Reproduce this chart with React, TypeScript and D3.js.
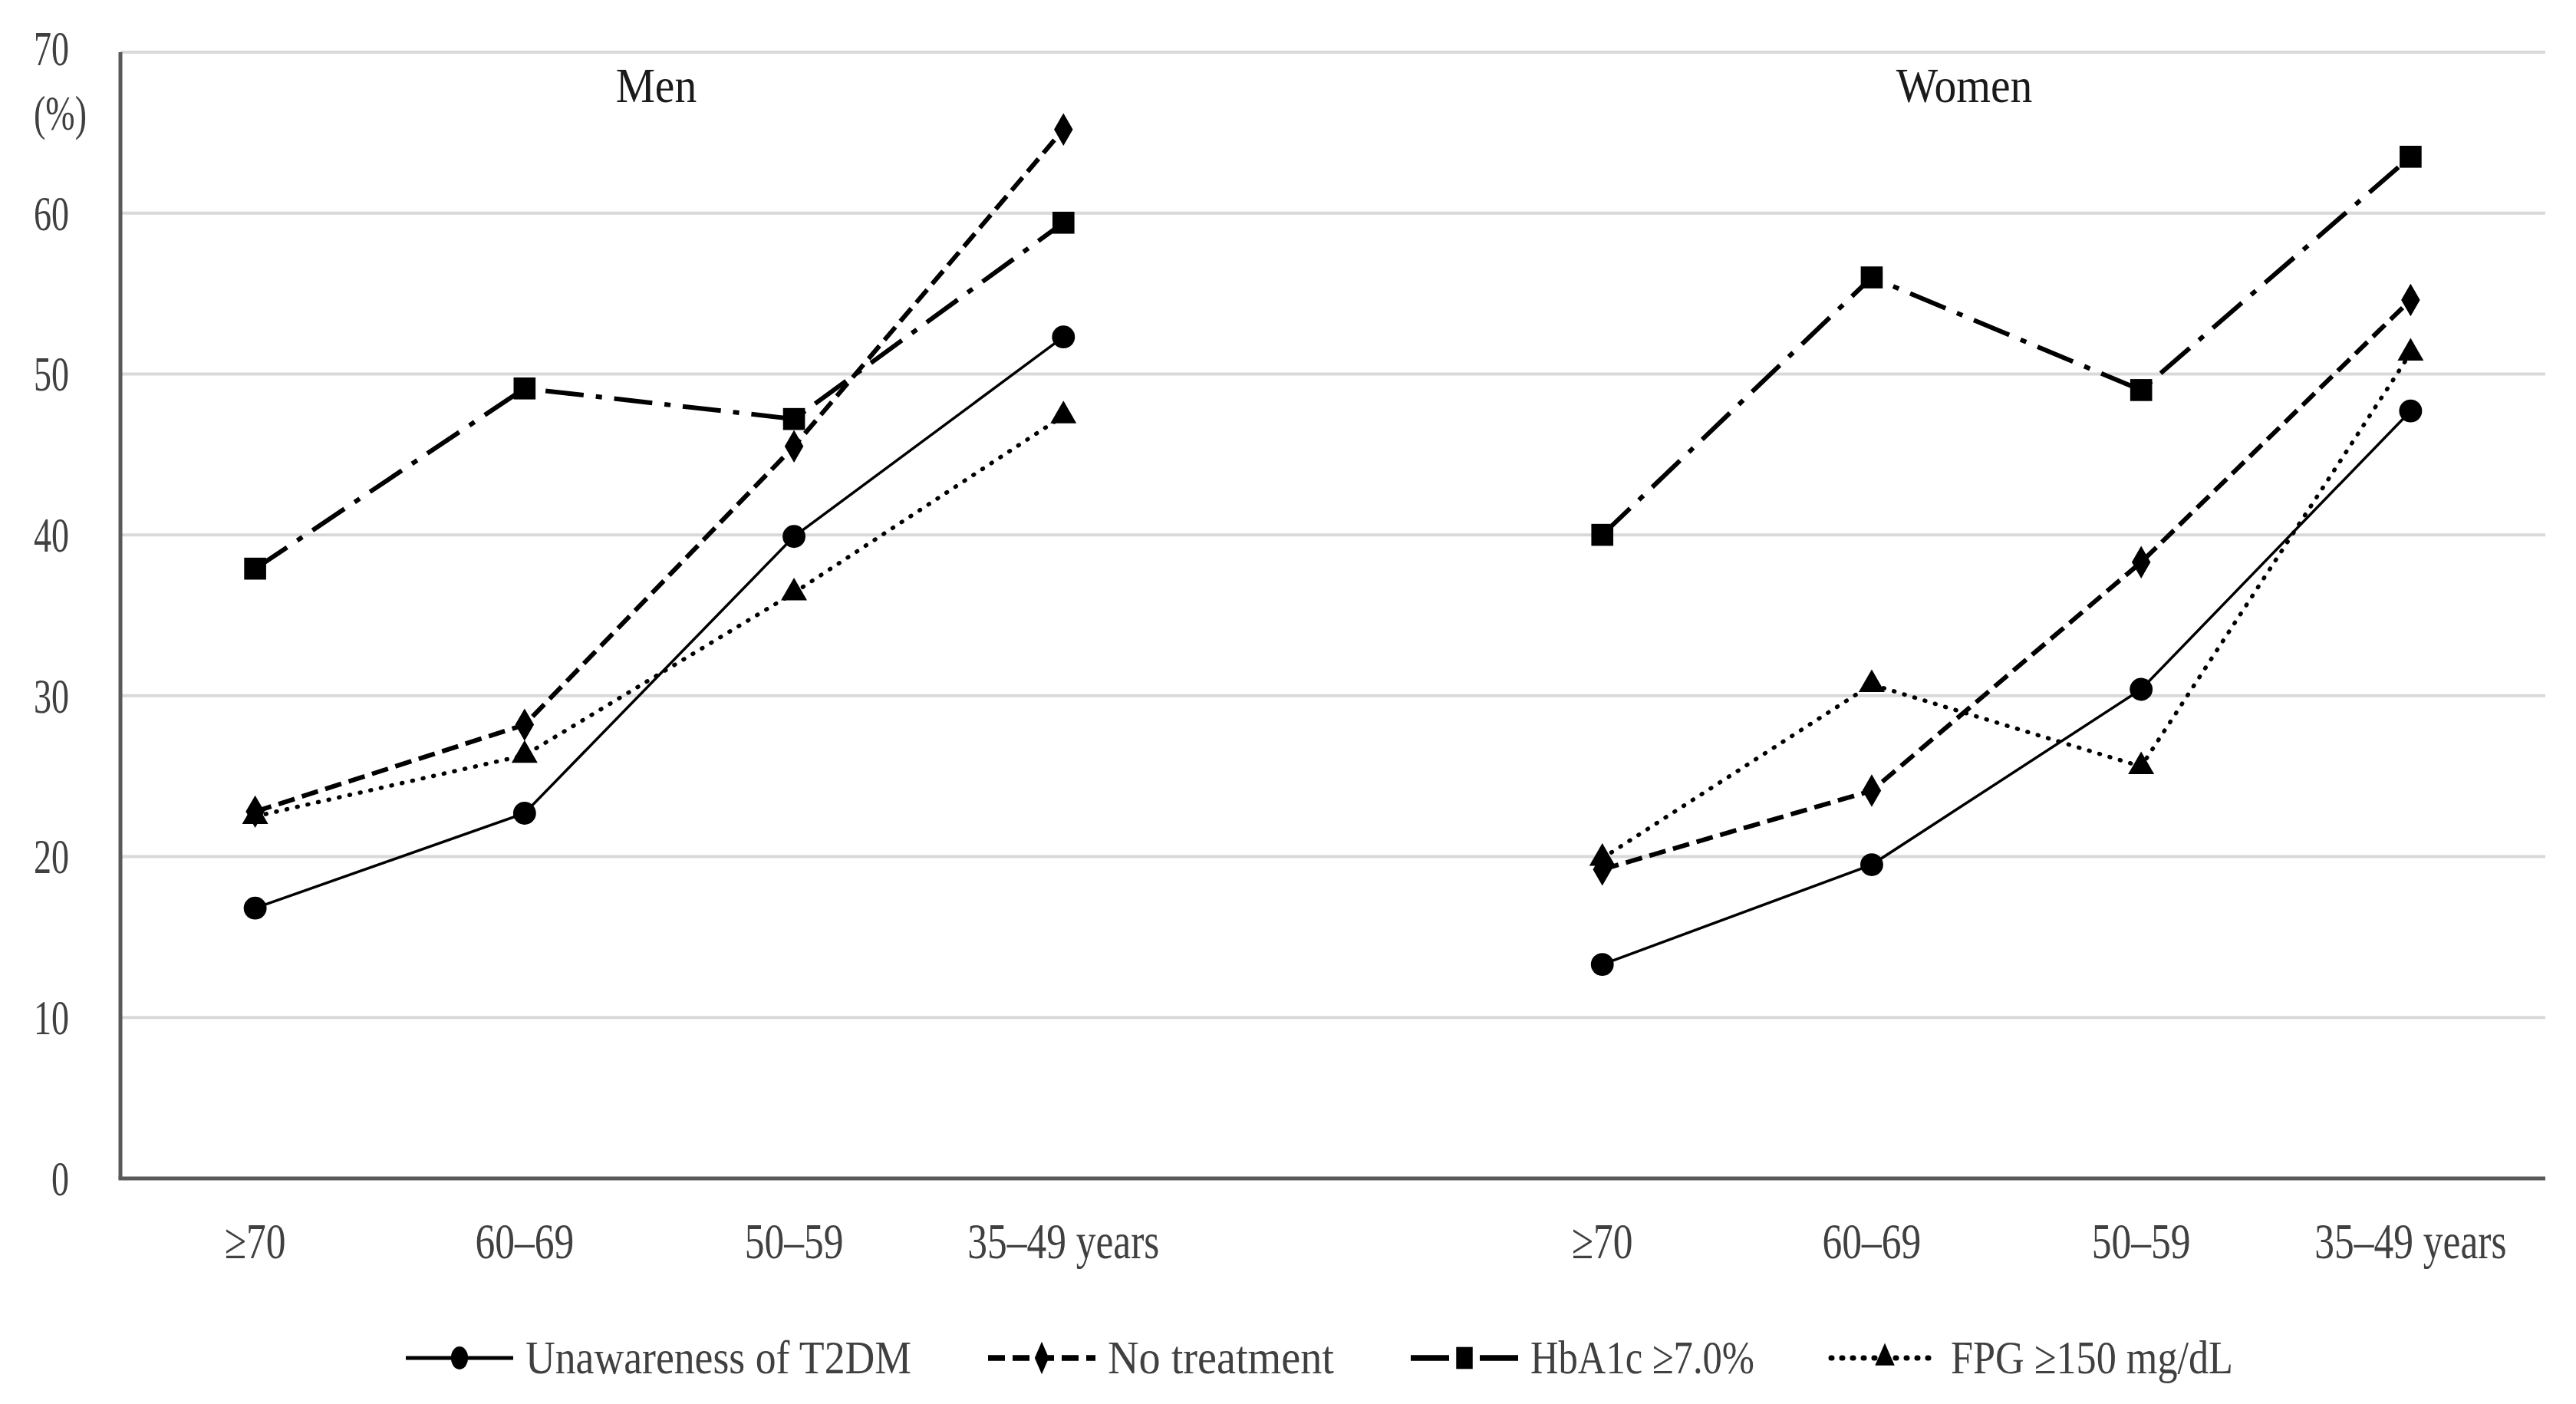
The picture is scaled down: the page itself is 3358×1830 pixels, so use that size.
import React from "react"
import {
  line,
  scaleBand,
  scaleLinear,
  symbol,
  symbolCircle,
  symbolDiamond,
  symbolSquare,
  symbolTriangle,
  range,
} from "d3"

// data
const ageGroups = ["≥70", "60–69", "50–59", "35–49 years"]
const slotKeys = ["m0", "m1", "m2", "m3", "gap", "w0", "w1", "w2", "w3"]
const menSlots = ["m0", "m1", "m2", "m3"]
const womenSlots = ["w0", "w1", "w2", "w3"]
const panelTitles = ["Men", "Women"]
const yTicks = range(0, 71, 10)

const menUnaware = [16.8, 22.7, 39.9, 52.3]
const womenUnaware = [13.3, 19.5, 30.4, 47.7]
const menNoTreatment = [22.8, 28.2, 45.5, 65.2]
const womenNoTreatment = [19.2, 24.1, 38.3, 54.6]
const menHbA1c = [37.9, 49.1, 47.2, 59.4]
const womenHbA1c = [40.0, 56.0, 49.0, 63.5]
const menFPG = [22.5, 26.3, 36.4, 47.4]
const womenFPG = [19.9, 30.7, 25.6, 51.3]

const seriesNames = [
  "Unawareness of T2DM",
  "No treatment",
  "HbA1c ≥7.0%",
  "FPG ≥150 mg/dL",
]

type Series = {
  name: string
  men: number[]
  women: number[]
  dash: string
  width: number
  cap: "butt" | "round"
  shape: any
  size: number
  legendWidth: number
}

const series: Series[] = [
  { name: seriesNames[0], men: menUnaware, women: womenUnaware, dash: "none", width: 3.5, cap: "butt", shape: symbolCircle, size: 700, legendWidth: 503 },
  { name: seriesNames[1], men: menNoTreatment, women: womenNoTreatment, dash: "22 10", width: 6, cap: "butt", shape: symbolDiamond, size: 520, legendWidth: 295 },
  { name: seriesNames[2], men: menHbA1c, women: womenHbA1c, dash: "50 16 8 16", width: 6, cap: "butt", shape: symbolSquare, size: 820, legendWidth: 292 },
  { name: seriesNames[3], men: menFPG, women: womenFPG, dash: "1 13", width: 5.5, cap: "round", shape: symbolTriangle, size: 500, legendWidth: 368 },
]

const W = 3358
const H = 1830
const font = "'Liberation Serif', 'Times New Roman', serif"
const textColor = "#404040"

const App = () => {
  // dimensions
  const left = 157
  const right = 3318
  const top = 68
  const bottom = 1536

  const x = scaleBand<string>().domain(slotKeys).range([left, right])
  const cx = (k: string) => (x(k) ?? 0) + x.bandwidth() / 2
  const y = scaleLinear().domain([0, 70]).range([bottom, top])

  const lineGen = line<[string, number]>()
    .x((d) => cx(d[0]))
    .y((d) => y(d[1]))

  // legend layout
  const legendY = 1770
  const symLen = 140
  const legendGap = 100
  let cursor = 529
  const legendItems = series.map((s) => {
    const start = cursor
    cursor = start + symLen + 16 + s.legendWidth + legendGap
    return { s, start }
  })

  const titleX = [(cx("m1") + cx("m2")) / 2 - 4, (cx("w1") + cx("w2")) / 2 - 55]

  return (
    <svg
      width={W}
      height={H}
      style={{ position: "absolute", left: 0, top: 0, background: "#fff" }}
    >
      <rect width={W} height={H} fill="#fff" />

      {/* gridlines */}
      {yTicks.slice(1).map((t) => (
        <line key={t} x1={left} x2={right} y1={y(t)} y2={y(t)} stroke="#d9d9d9" strokeWidth={4} />
      ))}

      {/* axes */}
      <line x1={left} x2={left} y1={top} y2={bottom} stroke="#595959" strokeWidth={5} />
      <line x1={left - 2.5} x2={right} y1={bottom} y2={bottom} stroke="#595959" strokeWidth={5} />

      {/* y tick labels */}
      {yTicks.map((t) => (
        <text
          key={t}
          transform={`translate(90, ${y(t) - (t === 70 ? 5 : 0)}) scale(0.72, 1)`}
          textAnchor="end"
          dominantBaseline="central"
          fontFamily={font}
          fontSize={64}
          fill={textColor}
        >
          {t}
        </text>
      ))}
      <text
        transform={`translate(113, 147) scale(0.72, 1)`}
        textAnchor="end"
        dominantBaseline="central"
        fontFamily={font}
        fontSize={64}
        fill={textColor}
      >
        (%)
      </text>

      {/* x tick labels */}
      {[menSlots, womenSlots].map((slots) =>
        slots.map((k, i) => (
          <text
            key={k}
            transform={`translate(${cx(k)}, 1640) scale(0.78, 1)`}
            textAnchor="middle"
            fontFamily={font}
            fontSize={66}
            fill={textColor}
          >
            {ageGroups[i]}
          </text>
        )),
      )}

      {/* panel titles */}
      {panelTitles.map((t, i) => (
        <text
          key={t}
          transform={`translate(${titleX[i]}, 133) scale(0.9, 1)`}
          textAnchor="middle"
          fontFamily={font}
          fontSize={64}
          fill="#1a1a1a"
        >
          {t}
        </text>
      ))}

      {/* lines */}
      {series.map((s) =>
        [
          { slots: menSlots, vals: s.men },
          { slots: womenSlots, vals: s.women },
        ].map((g, gi) => (
          <path
            key={s.name + gi}
            d={lineGen(g.slots.map((k, i) => [k, g.vals[i]] as [string, number])) ?? ""}
            fill="none"
            stroke="#000"
            strokeWidth={s.width}
            strokeDasharray={s.dash}
            strokeLinecap={s.cap}
          />
        )),
      )}

      {/* markers */}
      {series.map((s) =>
        [
          { slots: menSlots, vals: s.men },
          { slots: womenSlots, vals: s.women },
        ].map((g) =>
          g.slots.map((k, i) => (
            <path
              key={s.name + k}
              d={symbol(s.shape, s.size)() ?? ""}
              transform={`translate(${cx(k)}, ${y(g.vals[i])})`}
              fill="#000"
            />
          )),
        ),
      )}

      {/* legend */}
      {legendItems.map(({ s, start }) => (
        <g key={s.name}>
          <line
            x1={start}
            x2={start + symLen}
            y1={legendY}
            y2={legendY}
            stroke="#000"
            strokeWidth={s.width + 1.5}
            strokeDasharray={s.dash}
            strokeLinecap={s.cap}
          />
          <path
            d={symbol(s.shape, s.size)() ?? ""}
            transform={`translate(${start + symLen / 2}, ${legendY}) scale(0.75, 1)`}
            fill="#000"
          />
          <text
            x={start + symLen + 16}
            y={legendY + 20}
            fontFamily={font}
            fontSize={62}
            fill={textColor}
            textLength={s.legendWidth}
            lengthAdjust="spacingAndGlyphs"
          >
            {s.name}
          </text>
        </g>
      ))}
    </svg>
  )
}

export default App
